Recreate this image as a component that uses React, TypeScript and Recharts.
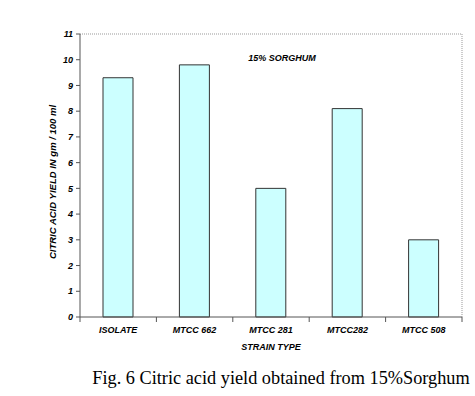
import React from 'react';
import { BarChart, Bar, XAxis, YAxis, ReferenceLine, Customized } from 'recharts';

const strains = ['ISOLATE', 'MTCC 662', 'MTCC  281', 'MTCC282', 'MTCC 508'];
const yieldValues = [9.3, 9.8, 5.0, 8.1, 3.0];
const yTicks = [0, 1, 2, 3, 4, 5, 6, 7, 8, 9, 10, 11];

const chartData = strains.map((name, i) => ({ name, value: yieldValues[i] }));

const CHART_W = 475;
const Y_AXIS_W = 80;
const RIGHT_MARGIN = 12;
const RIGHT_AXIS_W = 1;
const BAND = (CHART_W - Y_AXIS_W - RIGHT_MARGIN - RIGHT_AXIS_W) / strains.length;

const axisFont = {
  fontFamily: 'Arial, "Liberation Sans", sans-serif',
  fontSize: 9,
  fontWeight: 'bold' as const,
  fontStyle: 'italic' as const,
  fill: '#000',
};

// category label at the band centre, tick marks on the band edges (Excel style)
const StrainTick = (props: any) => {
  const { x, y, payload, index } = props;
  const half = BAND / 2;
  const axisY = y - 10;
  return (
    <g>
      <path d={`M${x - half},${axisY}v5`} stroke="#555" strokeWidth={1} fill="none" />
      {index === strains.length - 1 && (
        <path d={`M${x + half},${axisY}v5`} stroke="#555" strokeWidth={1} fill="none" />
      )}
      <text x={x} y={y} dy="0.71em" textAnchor="middle" {...axisFont}>
        {payload.value}
      </text>
    </g>
  );
};

// titles drawn inside the svg
const Titles = () => (
  <g>
    <text x={282} y={61} textAnchor="middle" {...axisFont}>15% SORGHUM</text>
    <text x={271} y={350} textAnchor="middle" {...axisFont}>STRAIN TYPE</text>
    <text
      x={56}
      y={182}
      textAnchor="middle"
      transform="rotate(-90, 56, 182)"
      {...axisFont}
      fontSize={9.5}
    >
      CITRIC ACID YIELD IN gm / 100 ml
    </text>
    <text
      x={281}
      y={384}
      textAnchor="middle"
      fontFamily='"Times New Roman", "Liberation Serif", serif'
      fontSize={18.3}
      fill="#000"
    >
      Fig. 6 Citric acid yield obtained from 15%Sorghum
    </text>
  </g>
);

const App: React.FC = () => {
  return (
    <div style={{ position: 'absolute', left: 0, top: 0, background: '#fff' }}>
      <BarChart
        width={CHART_W}
        height={396}
        data={chartData}
        margin={{ top: 34, right: RIGHT_MARGIN, left: 0, bottom: 49 }}
        barCategoryGap="0%"
      >
        <XAxis
          dataKey="name"
          stroke="#555"
          tickLine={false}
          tickSize={4}
          tickMargin={6}
          tick={<StrainTick />}
          interval={0}
          height={30}
        />
        <YAxis
          domain={[0, 11]}
          ticks={yTicks}
          interval={0}
          width={Y_AXIS_W}
          stroke="#555"
          tickSize={4}
          tickMargin={3}
          tick={axisFont}
        />
        <YAxis
          yAxisId="right"
          orientation="right"
          domain={[0, 11]}
          width={RIGHT_AXIS_W}
          tick={false}
          tickLine={false}
          stroke="#999"
          strokeDasharray="1 1"
        />
        <ReferenceLine y={11} stroke="#999" strokeDasharray="1 1" />
        <Bar
          dataKey="value"
          fill="#CCFFFF"
          stroke="#333"
          strokeWidth={1}
          barSize={30}
          isAnimationActive={false}
        />
        <Customized component={Titles} />
      </BarChart>
    </div>
  );
};

export default App;
